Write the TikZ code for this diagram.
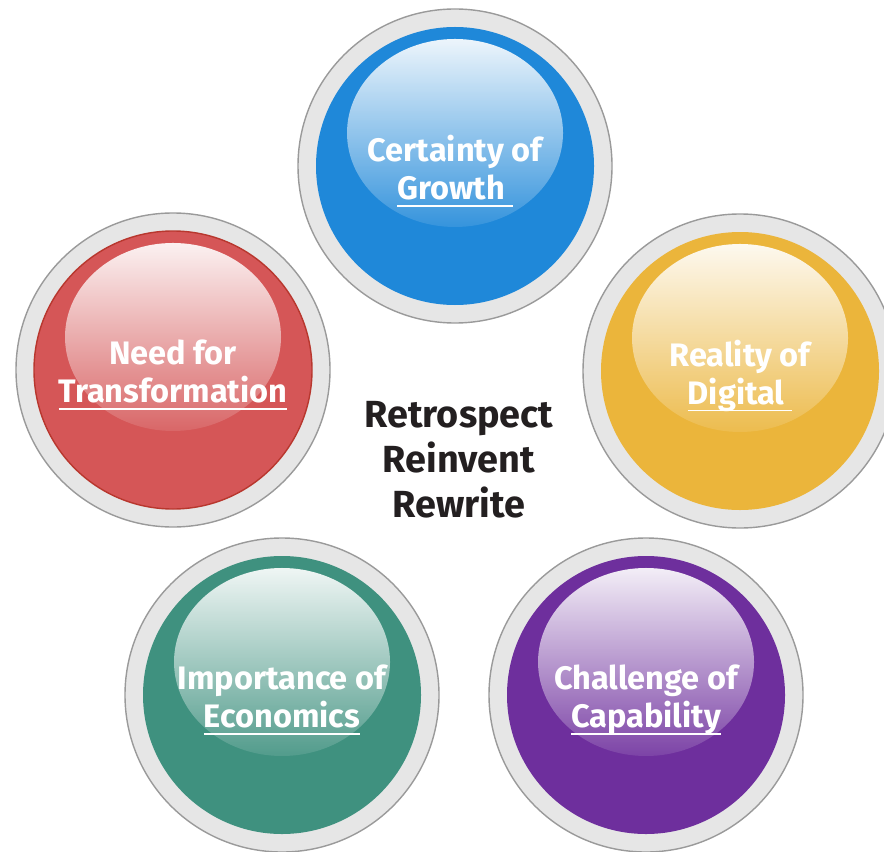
\documentclass[tikz,border=0pt]{standalone}
\usepackage{fontspec}
\setmainfont{Fira Sans}
\usetikzlibrary{shapes.geometric,fadings}
\usepackage{xcolor}
\definecolor{ballblue}{HTML}{1F88D9}
\definecolor{ballgold}{HTML}{EBB53B}
\definecolor{ballred}{HTML}{D55657}
\definecolor{redrim}{HTML}{B8372E}
\definecolor{ballgreen}{HTML}{3F917F}
\definecolor{ballpurple}{HTML}{6E2F9D}
\definecolor{ringgray}{HTML}{E6E6E6}
\definecolor{ringedge}{HTML}{9A9A9A}
\definecolor{hubtext}{HTML}{231F20}

% white glare, strong at the top and nearly gone at the bottom
\tikzfading[name=glossfade, top color=transparent!8, bottom color=transparent!90]

% thick underline that also covers a trailing space
\newcommand{\ulword}[1]{\setbox0=\hbox{#1}\rlap{\rule[-4pt]{\wd0}{1.1pt}}\box0}

\begin{document}
\begin{tikzpicture}[
    ring/.style={circle,inner sep=0,minimum size=6.28cm,fill=ringgray,draw=ringedge,line width=0.8pt},
    disk/.style={circle,inner sep=0,minimum size=5.56cm,fill=#1},
    gloss/.style={ellipse,inner sep=0,minimum width=4.32cm,minimum height=3.76cm,fill=white,path fading=glossfade},
    label/.style={align=center,inner sep=0,text=white,font=\fontsize{18.5}{21.5}\selectfont\bfseries},
    hub/.style={align=center,inner sep=0,text=hubtext,font=\fontsize{21.5}{25.5}\selectfont\bfseries}
]
\useasboundingbox (0,0) rectangle (17.68,17.02);

% top ball
\node[ring] (growth) at (9.10,13.70) {};
\node[disk=ballblue] (growthdisk) at (growth) {};
\node[gloss] (growthgloss) at ([yshift=0.66cm]growth.center) {};
\node[label] (growthlabel) at ([yshift=-0.1cm]growth.center) {Certainty of\\\ulword{Growth\ }};

% right ball
\node[ring] (digital) at (14.80,9.60) {};
\node[disk=ballgold] (digitaldisk) at (digital) {};
\node[gloss] (digitalgloss) at ([yshift=0.66cm]digital.center) {};
\node[label] (digitallabel) at ([yshift=-0.1cm]digital.center) {Reality of\\\ulword{Digital\ }};

% left ball
\node[ring] (transform) at (3.46,9.62) {};
\node[disk=ballred,draw=redrim,line width=0.8pt] (transformdisk) at (transform) {};
\node[gloss] (transformgloss) at ([yshift=0.66cm]transform.center) {};
\node[label] (transformlabel) at ([yshift=-0.1cm]transform.center) {Need for\\\ulword{Transformation}};

% lower left ball
\node[ring] (economics) at (5.64,3.12) {};
\node[disk=ballgreen] (economicsdisk) at (economics) {};
\node[gloss] (economicsgloss) at ([yshift=0.66cm]economics.center) {};
\node[label] (economicslabel) at ([yshift=-0.1cm]economics.center) {Importance of\\\ulword{Economics}};

% lower right ball
\node[ring] (capability) at (12.92,3.12) {};
\node[disk=ballpurple] (capabilitydisk) at (capability) {};
\node[gloss] (capabilitygloss) at ([yshift=0.66cm]capability.center) {};
\node[label] (capabilitylabel) at ([yshift=-0.1cm]capability.center) {Challenge of\\\ulword{Capability}};

% middle
\node[hub] (motto) at (9.18,7.82) {Retrospect\\Reinvent\\Rewrite};
\end{tikzpicture}
\end{document}
